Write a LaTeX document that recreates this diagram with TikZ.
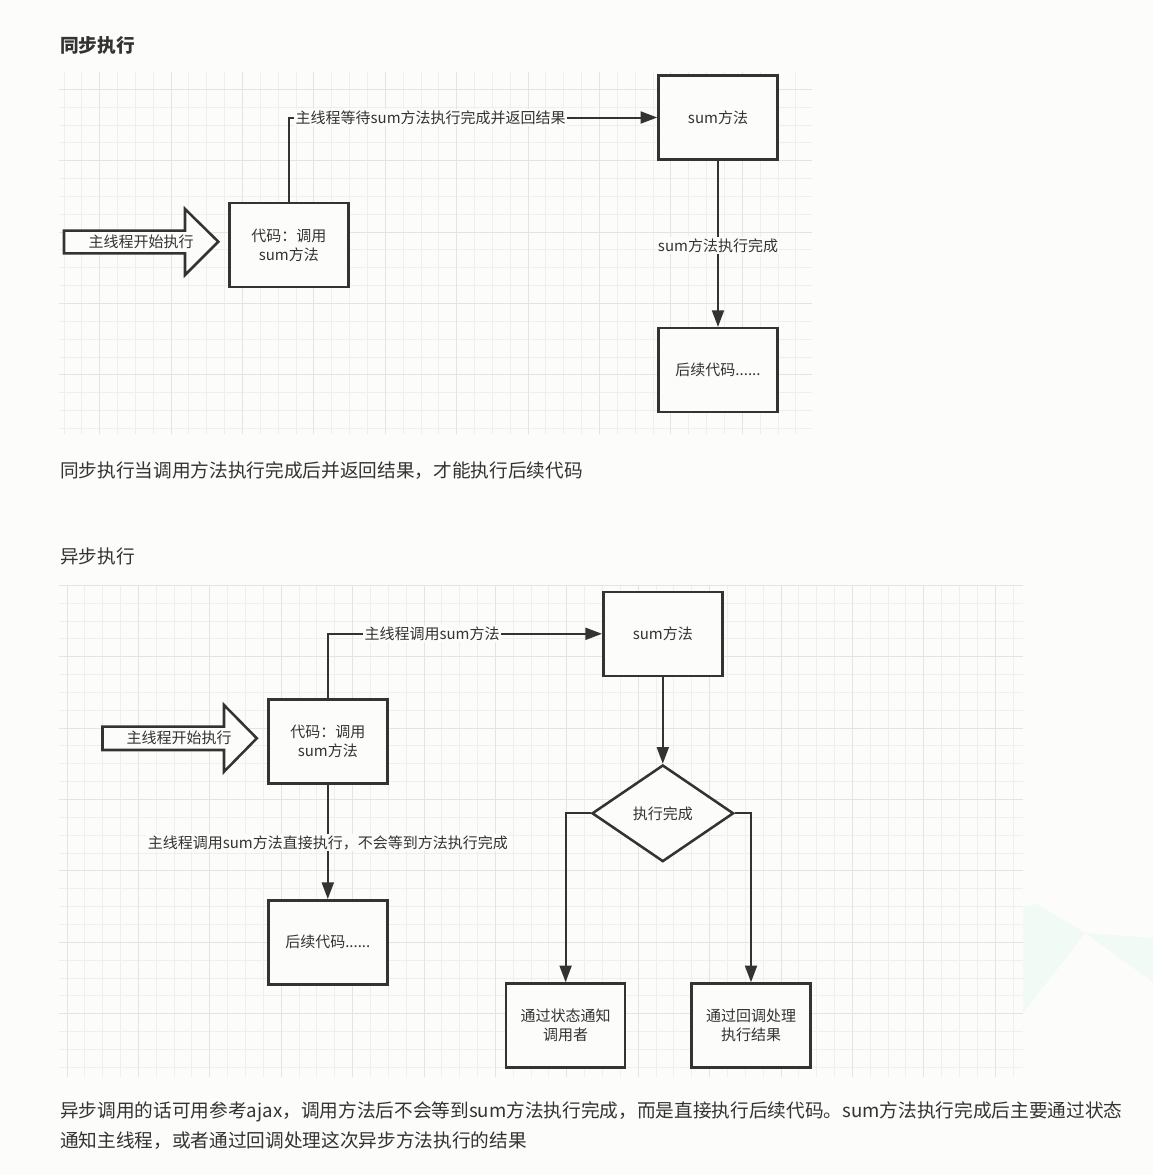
\documentclass[tikz,border=0pt]{standalone}
\usepackage{fontspec}
\setmainfont{Noto Sans CJK SC}
\usetikzlibrary{arrows.meta,shapes.geometric}
\definecolor{bg}{HTML}{FCFCFA}
\definecolor{ink}{HTML}{333333}
\definecolor{gminorc}{HTML}{EFEFED}
\definecolor{gmajorc}{HTML}{E4E4E2}
\definecolor{wm}{HTML}{F1FAF4}
\newcommand\diagfnt{\fontsize{11.25}{14.25}\selectfont}
\newcommand\bodyfnt{\fontsize{14}{21}\selectfont}
\begin{document}
\begin{tikzpicture}[x=0.75pt,y=-0.75pt,
  gminor/.style={draw=gminorc,line width=0.75pt},
  gmajor/.style={draw=gmajorc,line width=0.75pt},
  box/.style={draw=ink,line width=1.9pt,fill=bg,minimum width=89.25pt,minimum height=63pt,inner sep=0pt,align=center,text=ink,font=\diagfnt},
  dec/.style={diamond,draw=ink,line width=1.9pt,fill=bg,minimum width=106.2pt,minimum height=72.5pt,inner sep=0pt,text=ink,font=\diagfnt},
  conn/.style={draw=ink,line width=1.5pt,-{Triangle[length=12.5pt,width=9pt]}},
  lbl/.style={fill=bg,text=ink,font=\diagfnt,inner sep=1pt},
  bigarrow/.style={draw=ink,line width=1.9pt,fill=bg,line join=miter},
  para/.style={anchor=west,inner sep=0pt,text=ink,font=\bodyfnt}]
\useasboundingbox (0,0) rectangle (1153,1175);
\fill[bg] (0,0) rectangle (1153,1175);
% watermark
\fill[wm] (1023,907) -- (1037,904) -- (1085,933) -- (1023,1013) -- cycle;
\fill[wm] (1085,933) -- (1153,938) -- (1153,982) -- cycle;
% grid 1
\foreach \k in {0,...,41} \draw[gminor] ({64+17.85*\k},72) -- ({64+17.85*\k},434);
\foreach \j in {0,...,19} \draw[gminor] (59,{89.3+17.85*\j}) -- (812,{89.3+17.85*\j});
\foreach \k in {2,6,...,38} \draw[gmajor] ({64+17.85*\k},72) -- ({64+17.85*\k},434);
\foreach \j in {0,4,...,16} \draw[gmajor] (59,{89.3+17.85*\j}) -- (812,{89.3+17.85*\j});
% grid 2
\foreach \k in {0,...,53} \draw[gminor] ({67+17.85*\k},585) -- ({67+17.85*\k},1077);
\foreach \j in {0,...,27} \draw[gminor] (59,{585.3+17.85*\j}) -- (1023,{585.3+17.85*\j});
\foreach \k in {0,4,...,52} \draw[gmajor] ({67+17.85*\k},585) -- ({67+17.85*\k},1077);
\foreach \j in {0,4,...,24} \draw[gmajor] (59,{585.3+17.85*\j}) -- (1023,{585.3+17.85*\j});

% texts
\node[para] (title1) at (60,45) {\bfseries 同步执行};
\node[para] (cap1) at (60,471) {同步执行当调用方法执行完成后并返回结果，才能执行后续代码};
\node[para] (title2) at (60,556) {异步执行};
\node[para] (cap2a) at (60,1112) {异步调用的话可用参考ajax，调用方法后不会等到sum方法执行完成，而是直接执行后续代码。sum方法执行完成后主要通过状态};
\node[para] (cap2b) at (60,1141) {通知主线程，或者通过回调处理这次异步方法执行的结果};

% ---- sync diagram
\draw[bigarrow] (64,230.7) -- (185,230.7) -- (185,209) -- (218.3,241.7) -- (185,275) -- (185,253.3) -- (64,253.3) -- cycle;
\node[lbl,fill=none] (start1) at (141,242) {主线程开始执行};
\node[box] (b1) at (288.8,245) {代码：调用\\sum方法};
\node[box] (s1) at (718,117.5) {sum方法};
\node[box] (c1) at (718,370.2) {后续代码......};
\draw[conn] (b1.north) -- (b1.north |- s1.west) -- node[lbl,pos=0.385] {主线程等待sum方法执行完成并返回结果} (s1.west);
\draw[conn] (s1.south) -- node[lbl,pos=0.51] {sum方法执行完成} (c1.north);

% ---- async diagram
\draw[bigarrow] (102.5,726.7) -- (224,726.7) -- (224,705) -- (256.8,738.3) -- (224,771.7) -- (224,750) -- (102.5,750) -- cycle;
\node[lbl,fill=none] (start2) at (179,738.3) {主线程开始执行};
\node[box] (b2) at (327.8,741.3) {代码：调用\\sum方法};
\node[box] (c2) at (327.8,942.3) {后续代码......};
\node[box] (s2) at (662.8,633.8) {sum方法};
\node[dec] (d) at (662.8,813.3) {执行完成};
\node[box] (l) at (565.6,1025.5) {通过状态通知\\调用者};
\node[box] (r) at (751,1025.5) {通过回调处理\\执行结果};
\draw[conn] (b2.north) -- (b2.north |- s2.west) -- node[lbl,pos=0.38] {主线程调用sum方法} (s2.west);
\draw[conn] (b2.south) -- node[lbl,pos=0.51] {主线程调用sum方法直接执行，不会等到方法执行完成} (c2.north);
\draw[conn] (s2.south) -- (d.north);
\draw[conn] (d.west) -| (l.north);
\draw[conn] (d.east) -| (r.north);
\end{tikzpicture}
\end{document}
